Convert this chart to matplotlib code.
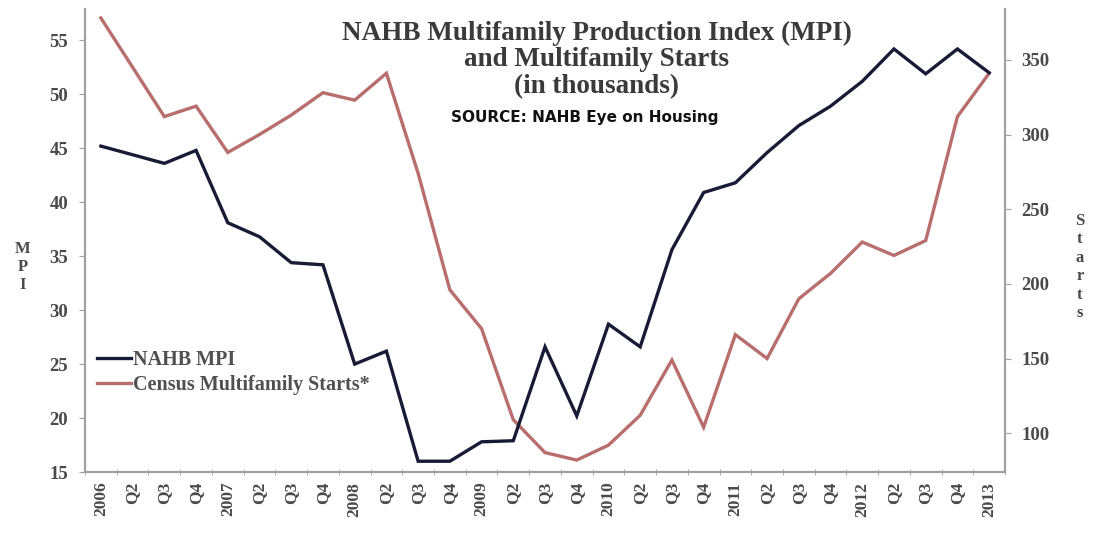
import matplotlib
matplotlib.use("Agg")
import matplotlib.pyplot as plt
import numpy as np

# quarters 2006 .. 2013 Q1
labels = ['2006', 'Q2', 'Q3', 'Q4', '2007', 'Q2', 'Q3', 'Q4',
          '2008', 'Q2', 'Q3', 'Q4', '2009', 'Q2', 'Q3', 'Q4',
          '2010', 'Q2', 'Q3', 'Q4', '2011', 'Q2', 'Q3', 'Q4',
          '2012', 'Q2', 'Q3', 'Q4', '2013']

mpi = [45.2, 44.4, 43.6, 44.8, 38.1, 36.8, 34.4, 34.2,
       25.0, 26.2, 16.0, 16.0, 17.8, 17.9, 26.6, 20.2,
       28.7, 26.6, 35.6, 40.9, 41.8, 44.6, 47.1, 48.9,
       51.2, 54.2, 51.9, 54.2, 52.0]

starts = [378, 345, 312, 319, 288, 300, 313, 328,
          323, 341, 274, 196, 170, 109, 87, 82,
          92, 112, 149, 104, 166, 150, 190, 207,
          228, 219, 229, 312, 341]

navy = '#171b36'
rose = '#b86e6c'
grey = '#a0a0a0'
txt = '#4a4a4a'
serif = ['Liberation Serif', 'DejaVu Serif']

x = np.arange(len(labels))

fig = plt.figure(figsize=(10.93, 5.33), dpi=100)
ax = fig.add_axes([0.0778, 0.1144, 0.8417, 0.8686])
ax2 = ax.twinx()

ax.plot(x, mpi, color=navy, lw=2.4, label='NAHB MPI', solid_joinstyle='miter')
ax2.plot(x, starts, color=rose, lw=2.4, label='Census Multifamily Starts*', solid_joinstyle='miter')
ax.set_zorder(ax2.get_zorder() + 1)
ax.patch.set_visible(False)

ax.set_xlim(-0.47, 28.5)
ax.set_ylim(15, 57.9)
ax2.set_ylim(74, 384)
ax.set_yticks([15, 20, 25, 30, 35, 40, 45, 50, 55])
ax2.set_yticks([100, 150, 200, 250, 300, 350])

ax.set_xticks(x)
ax.set_xticklabels(labels, rotation=90, family=serif, fontsize=12.5, fontweight='bold', color=txt)
ax.set_xticks(np.arange(-0.5, 29, 1), minor=True)
ax.tick_params(axis='x', which='major', length=0, pad=7)
ax.tick_params(axis='x', which='minor', length=5, direction='inout', color=grey)

for a in (ax, ax2):
    for s in a.spines.values():
        s.set_color(grey)
        s.set_linewidth(1.5)
    a.spines['top'].set_visible(False)

ax.tick_params(axis='y', length=4, color=grey, labelcolor=txt, pad=8)
ax2.tick_params(axis='y', length=4, color=grey, labelcolor=txt, pad=8)
for t in ax.get_yticklabels() + ax2.get_yticklabels():
    t.set_family(serif)
    t.set_fontsize(13.5)
    t.set_fontweight('bold')

# stacked axis titles
fig.text(0.021, 0.499, 'M\nP\nI', family=serif, fontsize=12, fontweight='bold',
         color=txt, ha='center', va='center', linespacing=1.2)
fig.text(0.988, 0.499, 'S\nt\na\nr\nt\ns', family=serif, fontsize=12, fontweight='bold',
         color=txt, ha='center', va='center', linespacing=1.2)

# title block
title_lines = ['NAHB Multifamily Production Index (MPI)', 'and Multifamily Starts', '(in thousands)']
for k, line in enumerate(title_lines):
    fig.text(0.546, 1 - (33 + 27 * k) / 533, line, family=serif, fontsize=19.5,
             fontweight='bold', color='#3a3a3a', ha='center', va='center')
fig.text(0.535, 0.779, 'SOURCE: NAHB Eye on Housing',
         family=['Liberation Sans Narrow', 'DejaVu Sans'], fontsize=11, fontweight='bold',
         color='#111111', ha='center', va='center')

h1, l1 = ax.get_legend_handles_labels()
h2, l2 = ax2.get_legend_handles_labels()
leg = ax.legend(h1 + h2, l1 + l2, loc='upper left', bbox_to_anchor=(97 / 1093, 0.343),
                bbox_transform=fig.transFigure, frameon=False, handlelength=1.7,
                handletextpad=0.1, labelspacing=0.25, borderpad=0, borderaxespad=0,
                prop={'family': serif, 'size': 14.5, 'weight': 'bold'})
for t in leg.get_texts():
    t.set_color('#505050')

fig.savefig('out.png', dpi=100)
